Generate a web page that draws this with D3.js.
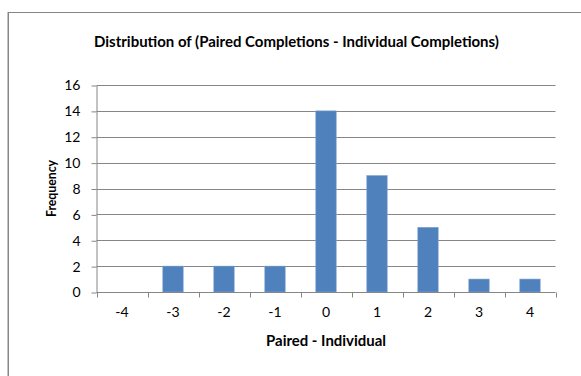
<!DOCTYPE html>
<html><head><meta charset="utf-8">
<script src="https://cdn.jsdelivr.net/npm/d3@7"></script>
<style>body{margin:0;background:#fff}svg{display:block}</style>
</head><body>
<svg id="c" width="581" height="376"></svg>
<script>
const categories = ["-4","-3","-2","-1","0","1","2","3","4"];
const frequency = [0,2,2,2,14,9,5,1,1];
const yTicks = [0,2,4,6,8,10,12,14,16];
const titleText = "Distribution of (Paired Completions - Individual Completions)";
const xTitle = "Paired - Individual";
const yTitle = "Frequency";

const svg = d3.select("#c");
const FONT = "Lato, 'Open Sans', sans-serif";
const grey = "#868686";
const plot = {left: 96.5, right: 555.5, top: 85, bottom: 292};

// frame
svg.append("rect").attr("x",8.5).attr("y",12.5).attr("width",700).attr("height",500)
  .attr("fill","none").attr("stroke",grey).attr("stroke-width",1);
svg.append("line").attr("x1",8).attr("x2",8).attr("y1",12).attr("y2",376).attr("stroke",grey).attr("stroke-width",1);

const x = d3.scaleBand().domain(categories).range([plot.left, plot.right]).paddingInner(0.6).paddingOuter(0.3);
const xb = d3.scaleBand().domain(categories).range([plot.left, plot.right]);
const y = d3.scaleLinear().domain([0,16]).range([plot.bottom, plot.top]);

// gridlines
svg.append("g").selectAll("line").data(yTicks.filter(d=>d>0)).join("line")
  .attr("x1",plot.left).attr("x2",plot.right)
  .attr("y1",d=>Math.round(y(d))+0.5).attr("y2",d=>Math.round(y(d))+0.5)
  .attr("stroke",grey).attr("stroke-width",1);

// bars
svg.append("g").selectAll("rect").data(frequency).join("rect")
  .attr("x",(d,i)=>x(categories[i]))
  .attr("width",x.bandwidth())
  .attr("y",d=>y(d))
  .attr("height",d=>plot.bottom - y(d))
  .attr("fill","#4f81bd")
  .attr("stroke","#7fa4d2").attr("stroke-width",0.6);

// y axis
const yAxis = d3.axisLeft(y).tickValues(yTicks).tickSize(5).tickPadding(11).tickSizeOuter(0);
const gy = svg.append("g").attr("transform",`translate(${plot.left},0.5)`).call(yAxis);
gy.select(".domain").attr("stroke",grey);
gy.selectAll(".tick line").attr("stroke",grey);
gy.selectAll(".tick text").attr("font-family",FONT).attr("font-size",14).attr("fill","#000");

// x axis: ticks at category boundaries
const boundaries = categories.map(c=>xb(c)).concat([plot.right]);
const gx = svg.append("g").attr("transform",`translate(0,${plot.bottom+0.5})`);
gx.append("line").attr("x1",plot.left).attr("x2",plot.right).attr("stroke",grey);
gx.selectAll("line.t").data(boundaries).join("line").attr("class","t")
  .attr("x1",d=>Math.round(d)+0.5).attr("x2",d=>Math.round(d)+0.5).attr("y1",0).attr("y2",5).attr("stroke",grey);
gx.selectAll("text").data(categories).join("text")
  .attr("x",d=>xb(d)+xb.bandwidth()/2).attr("y",24.5)
  .attr("text-anchor","middle").attr("font-family",FONT).attr("font-size",14).text(d=>d);

function fit(sel, target){
  const w = sel.node().getComputedTextLength();
  const fs = +sel.attr("font-size");
  sel.attr("font-size", (fs*target/w).toFixed(2));
}

const t = svg.append("text").attr("x",296.5).attr("y",47).attr("text-anchor","middle")
  .attr("font-family",FONT).attr("font-weight","bold").attr("font-size",13).text(titleText);
fit(t,405);

const xt = svg.append("text").attr("x",326).attr("y",345.5).attr("text-anchor","middle")
  .attr("font-family",FONT).attr("font-weight","bold").attr("font-size",13).text(xTitle);
fit(xt,120);

const yt = svg.append("text").attr("transform","translate(55.5,188.5) rotate(-90)").attr("text-anchor","middle")
  .attr("font-family",FONT).attr("font-weight","bold").attr("font-size",11).text(yTitle);
fit(yt,57);
</script>
</body></html>
